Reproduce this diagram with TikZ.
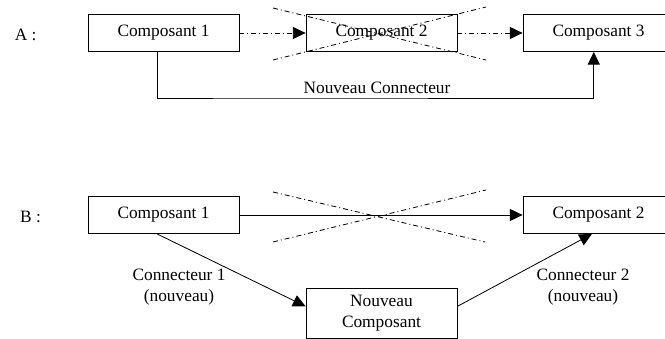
\documentclass[tikz,border=0pt]{standalone}
\usepackage{fontspec}
\setmainfont{Liberation Serif}
\usetikzlibrary{arrows.meta}
\begin{document}
\begin{tikzpicture}[line width=0.7pt,
  comp/.style={draw,minimum width=4.53cm,minimum height=1.11cm,inner sep=0pt},
  dashdot/.style={dash pattern=on 1.5mm off 0.9mm on 0.3mm off 0.9mm},
  arr/.style={-{Triangle[length=3.8mm,width=3.6mm]}},
  font=\fontsize{14.8}{18}\selectfont]
\useasboundingbox (0,0) rectangle (19.95,10.17);
\begin{scope}[yshift=9.18cm]
\node (labA) at (0.77,-0.05) {A :};
\node[comp] (compA1) at (4.905,0) {Composant 1};
\node[comp] (compA2) at (11.445,0) {Composant 2};
\node[comp] (compA3) at (17.955,0) {Composant 3};
\draw[arr,dashdot] (compA1) -- (compA2);
\draw[arr,dashdot] (compA2) -- (compA3);
\draw[dashdot] (8.19,0.75) -- (14.58,-0.81);
\draw[dashdot] (8.19,-0.81) -- (14.58,0.78);
\coordinate (bendA) at (8,-1.95);
\draw[arr] (compA1.251) |- (bendA) -| (compA3.256);
\node (newconn) at (11.31,-1.65) {Nouveau Connecteur};
\end{scope}
\begin{scope}[yshift=3.72cm]
\node (labB) at (0.915,-0.05) {B :};
\node[comp] (compB1) at (4.905,0) {Composant 1};
\node[comp] (compB2) at (17.955,0) {Composant 2};
\node[comp,minimum height=1.5cm,align=center] (compNew) at (11.445,-2.94) {Nouveau\\Composant};
\draw[arr] (compB1) -- (compB2);
\draw[dashdot] (8.19,0.69) -- (14.55,-0.81);
\draw[dashdot] (8.19,-0.81) -- (14.58,0.75);
\draw[arr] (compB1.251) -- (compNew.175);
\draw[arr] (compNew.5) -- (compB2.251);
\node[align=center] (conn1) at (5.37,-2.16) {Connecteur 1\\(nouveau)};
\node[align=center] (conn2) at (17.49,-2.16) {Connecteur 2\\(nouveau)};
\end{scope}
\end{tikzpicture}
\end{document}
